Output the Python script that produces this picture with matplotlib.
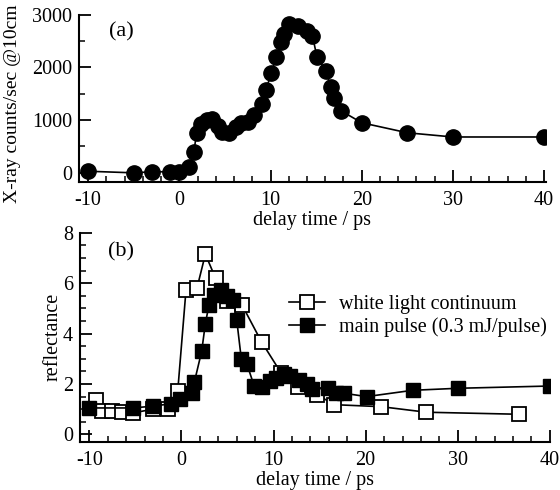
import matplotlib
matplotlib.use("Agg")
import matplotlib.pyplot as plt
from matplotlib.ticker import MultipleLocator

plt.rcParams['font.family'] = ['Liberation Serif', 'DejaVu Serif']
plt.rcParams['font.size'] = 14.5
plt.rcParams['axes.unicode_minus'] = False

# (a) X-ray counts vs delay
xray_t = [-10, -5, -3, -1, 0, 1.1, 1.6, 1.9, 2.4, 3.0, 3.6, 4.2, 4.7, 5.5, 6.2, 6.8,
          7.5, 8.2, 9.1, 9.5, 10.1, 10.6, 11.2, 11.5, 12.0, 13.0, 14.0, 14.6, 15.1,
          16.1, 16.6, 17.0, 17.7, 20, 25, 30, 40]
xray_counts = [30, 0, 20, 20, 20, 120, 400, 760, 920, 1010, 1030, 880, 780, 760, 860, 950,
               970, 1100, 1300, 1580, 1890, 2190, 2480, 2630, 2820, 2790, 2700, 2600, 2190,
               1930, 1620, 1420, 1180, 950, 760, 680, 680]

# (b) reflectance
wl_t = [-9.3, -8.6, -7.5, -6.4, -5.3, -3.1, -1.5, -0.4, 0.5, 1.7, 2.6, 3.7, 5.0, 6.6,
        8.7, 10.8, 12.7, 14.7, 16.6, 21.7, 26.6, 36.6]
wl_refl = [1.38, 0.93, 0.93, 0.9, 0.85, 1.0, 1.0, 1.72, 5.74, 5.82, 7.15, 6.2, 5.3, 5.12,
           3.67, 2.45, 1.88, 1.58, 1.18, 1.1, 0.88, 0.8]

mp_t = [-10, -5.3, -3.1, -1.1, -0.1, 1.1, 1.4, 2.2, 2.6, 3.0, 3.5, 4.3, 4.9, 5.6, 6.0,
        6.5, 7.1, 7.9, 8.8, 9.6, 10.3, 11.1, 11.8, 12.8, 13.6, 14.2, 15.9, 16.8, 17.7,
        20.1, 25.1, 30, 40]
mp_refl = [1.05, 1.05, 1.12, 1.22, 1.4, 1.65, 2.07, 3.3, 4.4, 5.15, 5.55, 5.72, 5.5, 5.35,
           4.55, 3.0, 2.8, 1.92, 1.88, 2.1, 2.25, 2.4, 2.3, 2.15, 2.0, 1.8, 1.83, 1.63,
           1.63, 1.5, 1.75, 1.83, 1.92]

fig = plt.figure(figsize=(5.6, 4.9), dpi=100)
ax1 = fig.add_axes([0.141, 0.629, 0.834, 0.341])
ax2 = fig.add_axes([0.143, 0.098, 0.839, 0.427])


def style(ax):
    for s in ['top', 'right']:
        ax.spines[s].set_visible(False)
    for s in ['left', 'bottom']:
        ax.spines[s].set_linewidth(1.5)
    ax.tick_params(which='major', direction='in', length=8.5, width=1.3)
    ax.tick_params(which='minor', direction='in', length=4.5, width=1.1)
    ax.tick_params(axis='x', pad=6.5)
    ax.tick_params(axis='y', pad=5)
    ax.xaxis.set_major_locator(MultipleLocator(10))
    ax.xaxis.set_minor_locator(MultipleLocator(2))


ax1.plot(xray_t, xray_counts, 'o-', color='black', lw=1.2, ms=11)
ax1.set_xlim(-11, 40.2)
ax1.set_ylim(-170, 3000)
ax1.yaxis.set_major_locator(MultipleLocator(1000))
ax1.yaxis.set_minor_locator(MultipleLocator(500))
style(ax1)
ax1.set_xlabel('delay time / ps', labelpad=0.5)
ax1.set_ylabel('X-ray counts/sec @10cm', fontsize=14)
ax1.yaxis.set_label_coords(-0.125, 0.465)
ax1.text(-6.3, 2670, '(a)', fontsize=16, ha='center', va='center')

ax2.plot(wl_t, wl_refl, 's-', color='black', mfc='white', mew=1.3, lw=1.2, ms=9.5,
         label='white light continuum')
ax2.plot(mp_t, mp_refl, 's-', color='black', lw=1.2, ms=10.5,
         label='main pulse (0.3 mJ/pulse)')
ax2.set_xlim(-11, 40)
ax2.set_ylim(-0.3, 8)
ax2.yaxis.set_major_locator(MultipleLocator(2))
ax2.yaxis.set_minor_locator(MultipleLocator(0.5))
style(ax2)
ax2.set_xlabel('delay time / ps', labelpad=0.5)
ax2.set_ylabel('reflectance', labelpad=0)
ax2.text(-6.6, 7.25, '(b)', fontsize=16, ha='center', va='center')
ax2.legend(loc='upper right', bbox_to_anchor=(1.015, 0.75), frameon=False,
           handlelength=1.8, handletextpad=0.7, borderpad=0, labelspacing=0.15)

fig.savefig('out.png', dpi=100)
